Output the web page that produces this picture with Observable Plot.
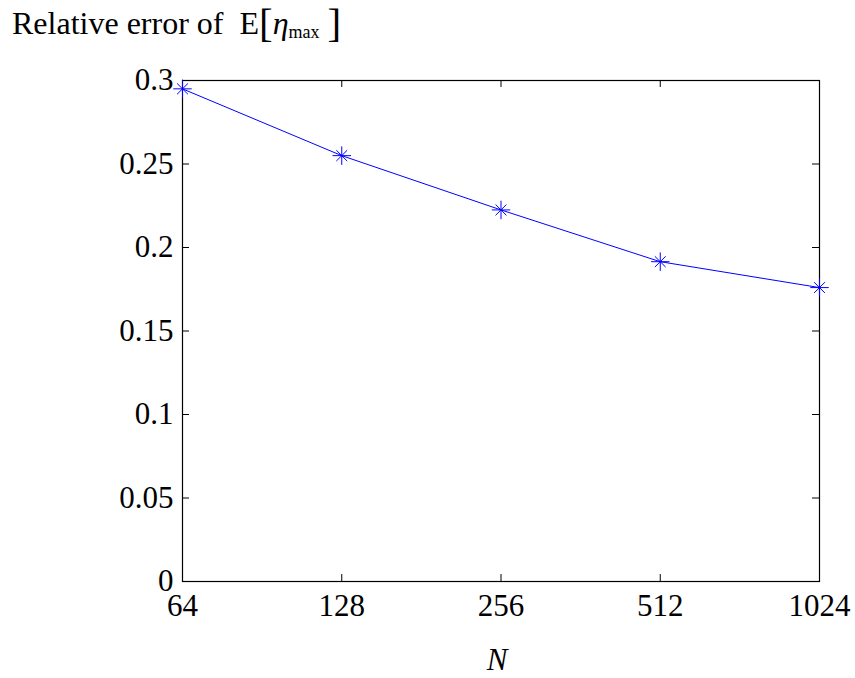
<!DOCTYPE html>
<html>
<head>
<meta charset="utf-8">
<script src="https://cdn.jsdelivr.net/npm/d3@7"></script>
<script src="https://cdn.jsdelivr.net/npm/@observablehq/plot@0.6"></script>
<style>
  body { margin: 0; background: #fff; }
  #wrap { position: relative; width: 855px; height: 678px; font-family: "Liberation Serif", "Times New Roman", serif; }
  #title { position: absolute; left: 12px; top: -2px; font-size: 32px; line-height: 44px; white-space: pre; color: #000; }
  .br { font-size: 41px; position: relative; top: 3px; }
  .sub { font-size: 18px; position: relative; top: 4px; }
</style>
</head>
<body>
<div id="wrap">
  <div id="title">Relative error of  E<span class="br">[</span><i>η</i><span class="sub">max</span> <span class="br">]</span></div>
</div>
<script>
const N = [64, 128, 256, 512, 1024];
const relErr = [0.295, 0.255, 0.2225, 0.1915, 0.176];
const xTicks = [64, 128, 256, 512, 1024];
const yTicks = [0, 0.05, 0.1, 0.15, 0.2, 0.25, 0.3];
const xLabel = "N";

const data = N.map((n, i) => ({n, v: relErr[i]}));

const W = 855, H = 678;
const mL = 182, mR = 36, mT = 80, mB = 97;
const plotW = W - mL - mR, plotH = H - mT - mB;
const tick = 7;

const chart = Plot.plot({
  width: W,
  height: H,
  marginLeft: mL,
  marginRight: mR,
  marginTop: mT,
  marginBottom: mB,
  style: {fontFamily: "'Liberation Serif', 'Times New Roman', serif", fontSize: "30px", color: "#000", background: "#fff"},
  x: {type: "log", base: 2, domain: [64, 1024]},
  y: {domain: [0, 0.3]},
  marks: [
    Plot.tickY(yTicks, {y: d => d, insetRight: plotW - tick, stroke: "black"}),
    Plot.tickY(yTicks, {y: d => d, insetLeft: plotW - tick, stroke: "black"}),
    Plot.tickX(xTicks, {x: d => d, insetTop: plotH - tick, stroke: "black"}),
    Plot.tickX(xTicks, {x: d => d, insetBottom: plotH - tick, stroke: "black"}),
    Plot.axisY({ticks: yTicks, tickSize: 0, tickPadding: 9, tickFormat: d => String(d), label: null, fontSize: 31}),
    Plot.axisX({ticks: xTicks, tickSize: 0, tickPadding: 12, tickFormat: d => String(d), label: null, fontSize: 31}),
    Plot.frame({stroke: "black", strokeWidth: 1.2}),
    Plot.line(data, {x: "n", y: "v", stroke: "#0000ff", strokeWidth: 1}),
    Plot.dot(data, {x: "n", y: "v", symbol: "plus", r: 6, stroke: "#0000ff", strokeWidth: 1, fill: "none"}),
    Plot.dot(data, {x: "n", y: "v", symbol: "times", r: 5, stroke: "#0000ff", strokeWidth: 1, fill: "none"}),
    Plot.text([xLabel], {frameAnchor: "bottom", text: d => d, dy: 88, dx: -4, fontStyle: "italic", fontSize: 31, fill: "black"})
  ]
});
document.getElementById("wrap").prepend(chart);
</script>
</body>
</html>
